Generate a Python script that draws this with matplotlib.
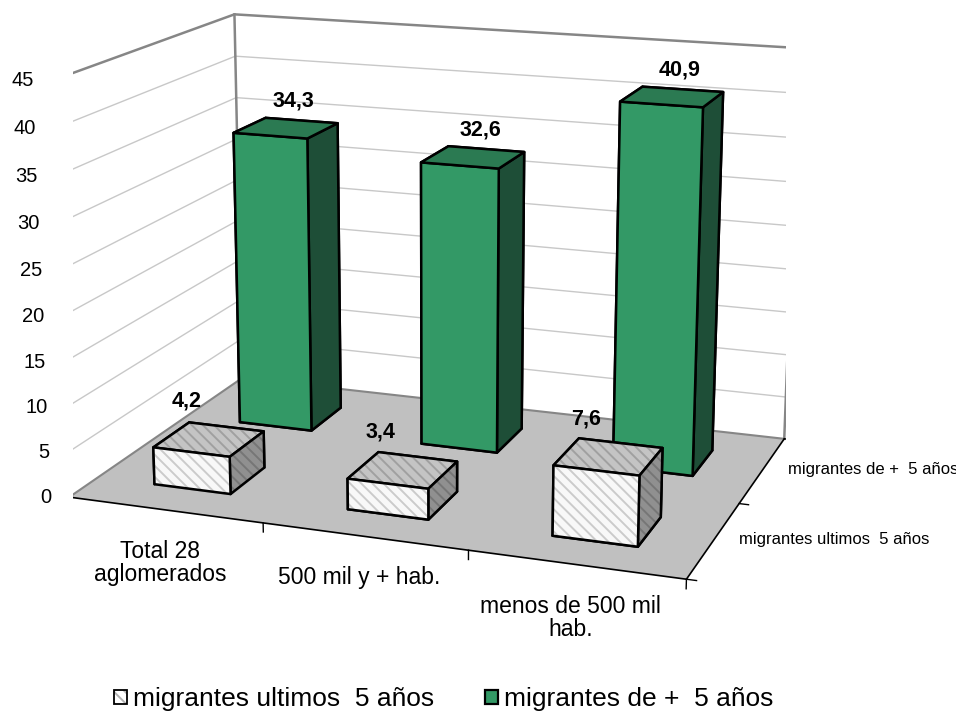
import numpy as np
import matplotlib
matplotlib.use('Agg')
import matplotlib.pyplot as plt
from matplotlib.patches import Patch
from mpl_toolkits.mplot3d import proj3d
from mpl_toolkits.mplot3d.art3d import Poly3DCollection

# ---------------- data ----------------
categories = ['Total 28\naglomerados', '500 mil y + hab.', 'menos de 500 mil\nhab.']
series_names = ['migrantes ultimos  5 años', 'migrantes de +  5 años']
recent = [4.2, 3.4, 7.6]          # migrantes ultimos 5 años
older = [34.3, 32.6, 40.9]        # migrantes de + 5 años
recent_labels = ['4,2', '3,4', '7,6']
older_labels = ['34,3', '32,6', '40,9']
z_ticks = [0, 5, 10, 15, 20, 25, 30, 35, 40, 45]

# ---------------- style ----------------
plt.rcParams['font.family'] = ['Liberation Sans', 'DejaVu Sans']
plt.rcParams['hatch.linewidth'] = 1.4

GREEN_FRONT = '#339966'
GREEN_TOP = '#2b7a52'
GREEN_SIDE = '#1e4e37'
GREY_FRONT = '#f8f8f8'
GREY_TOP = '#c4c4c4'
GREY_SIDE = '#909090'
FLOOR = '#c0c0c0'
WALL_EDGE = '#868686'
GRID = '#c8c8c8'
HATCH = (0, 0, 0, 0.18)

fig = plt.figure(figsize=(9.56, 7.13), dpi=100)
ax = fig.add_axes([-0.05106, 0.10812, 1, 1], projection='3d', computed_zorder=False)

nx, ny, zmax = len(categories), len(series_names), z_ticks[-1]
ax.set_xlim(0, nx)
ax.set_ylim(0, ny)
ax.set_zlim(0, zmax)
ax.set_box_aspect((1, 0.6618, 0.6666), zoom=1.1697)
ax.view_init(elev=15.063, azim=-70.112)
ax.set_proj_type('persp', focal_length=0.6424)
ax.set_axis_off()

# ---------------- walls & floor ----------------
floor = [[(0, 0, 0), (nx, 0, 0), (nx, ny, 0), (0, ny, 0)]]
walls = [[(0, ny, 0), (nx, ny, 0), (nx, ny, zmax), (0, ny, zmax)],
         [(0, 0, 0), (0, ny, 0), (0, ny, zmax), (0, 0, zmax)]]
ax.add_collection3d(Poly3DCollection(walls, facecolor='white', edgecolor='none', zorder=1))
ax.add_collection3d(Poly3DCollection(floor, facecolor=FLOOR, edgecolor='none', zorder=1))

for z in z_ticks[1:-1]:
    ax.plot([0, 0, nx], [0, ny, ny], [z, z, z], color=GRID, lw=1.0, zorder=2)

# wall outlines
ax.plot([0, 0, 0, nx, nx], [0, 0, ny, ny, ny], [0, zmax, zmax, zmax, 0],
        color=WALL_EDGE, lw=1.8, zorder=2)
ax.plot([0, 0], [ny, ny], [0, zmax], color=WALL_EDGE, lw=1.8, zorder=2)
ax.plot([0, 0, nx], [0, ny, ny], [0, 0, 0], color=WALL_EDGE, lw=1.5, zorder=2)

# axis lines (front and right floor edges)
ax.plot([0, nx, nx], [0, 0, ny], [0, 0, 0], color='black', lw=1.2, zorder=3)

# ticks
for i in range(nx + 1):
    ax.plot([i, i], [0, 0], [0, -1.0], color='black', lw=1.0, zorder=3)
for j in range(ny + 1):
    ax.plot([nx, nx + 0.045], [j, j], [0, 0], color='black', lw=1.0, zorder=3)
for z in z_ticks:
    ax.plot([-0.045, 0], [0, 0], [z, z], color=WALL_EDGE, lw=1.0, zorder=3)

# ---------------- bars ----------------
bw, bd = 0.4, 0.4
xc = np.arange(nx) + 0.5
yc = np.arange(ny) + 0.5

# face order in bar3d: -z, +z, -y, +y, -x, +x
green_faces = [GREEN_SIDE, GREEN_TOP, GREEN_FRONT, GREEN_FRONT, GREEN_FRONT, GREEN_SIDE] * nx
ax.bar3d(xc - bw / 2, np.full(nx, yc[1] - bd / 2), np.zeros(nx), bw, bd, older,
         color=green_faces, edgecolor='black', linewidth=1.8, shade=False, zorder=4)

grey_faces = [GREY_SIDE, GREY_TOP, GREY_FRONT, GREY_FRONT, GREY_FRONT, GREY_SIDE] * nx
# the first (hidden bottom-face) edge colour also sets the collection's hatch colour
grey_edges = [HATCH] + ['black'] * (6 * nx - 1)
ax.bar3d(xc - bw / 2, np.full(nx, yc[0] - bd / 2), np.zeros(nx), bw, bd, recent,
         color=grey_faces, edgecolor=grey_edges, linewidth=1.8, shade=False,
         hatch='\\\\\\', zorder=5)

# ---------------- texts (placed at projected 3D anchor points) ----------------
M = ax.get_proj()


def label(x, y, z, s, dx, dy, **kw):
    xv, yv, _ = proj3d.proj_transform(x, y, z, M)
    ax.annotate(s, xy=(xv, yv), xycoords='data', xytext=(dx, dy),
                textcoords='offset pixels', annotation_clip=False, zorder=6, **kw)


for x, v, lab in zip(xc, older, older_labels):
    label(x, yc[1], v, lab, 7, 27, ha='center', va='center', fontsize=15.5,
          fontweight='bold')
for x, v, lab in zip(xc, recent, recent_labels):
    label(x, yc[0], v, lab, -22, 38, ha='center', va='center', fontsize=15.5,
          fontweight='bold')

for x, lab in zip(xc, categories):
    label(x, 0, 0, lab, -5, -30, ha='center', va='top', fontsize=16.5, linespacing=1.0)

for y, lab in zip(yc, series_names):
    label(nx, y, 0, lab, 25, 0, ha='left', va='center', fontsize=12)

for z in z_ticks:
    label(0, 0, z, str(z), -18, 0, ha='right', va='center', fontsize=14.5)

# ---------------- legend ----------------
h1 = (Patch(facecolor='white', edgecolor=(0, 0, 0, 0.3), lw=0, hatch='\\\\\\'),
      Patch(facecolor='none', edgecolor='black', lw=1.3))
h2 = Patch(facecolor=GREEN_FRONT, edgecolor='black', lw=1.6)
fig.legend([h1, h2], series_names, loc='center', bbox_to_anchor=(0.4640, 1 - 699 / 713),
           ncol=2, frameon=False, fontsize=19, handlelength=0.5, handleheight=0.45,
           handletextpad=0.22, columnspacing=1.9)

fig.savefig('out.png', dpi=100)
